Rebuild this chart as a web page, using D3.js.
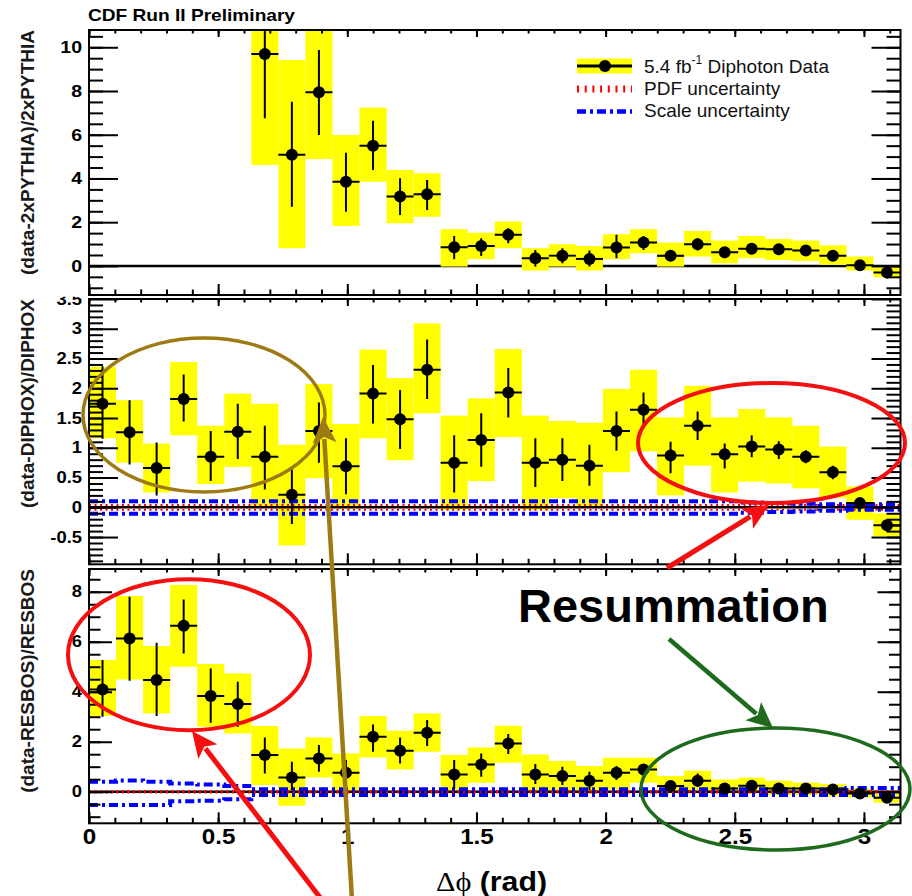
<!DOCTYPE html>
<html><head><meta charset="utf-8">
<script src="https://cdn.jsdelivr.net/npm/d3@7"></script>
<style>
body{margin:0;background:#fff}
svg{display:block}
text{font-family:"Liberation Sans",Arial,Helvetica,sans-serif}
</style>
</head><body>
<svg id="chart" width="912" height="896"></svg>
<script>
// ---------------- DATA ----------------
// 30 bins of width pi/30 in delta-phi (rad)
const nBins = 30;
const xTickValues = [0, 0.5, 1, 1.5, 2, 2.5, 3];
const xTickLabels = ["0", "0.5", "1", "1.5", "2", "2.5", "3"];

// Panel 1: (data-2xPYTHIA)/2xPYTHIA
const pyTicks = [0, 2, 4, 6, 8, 10];
const pyVal    = [null,null,null,null,null,null, 9.69, 5.08, 7.94, 3.85, 5.50, 3.17, 3.28, 0.85, 0.91, 1.42, 0.35, 0.47, 0.32, 0.84, 1.07, 0.46, 0.99, 0.63, 0.78, 0.76, 0.70, 0.47, 0.03, -0.30];
const pyStatLo = [null,null,null,null,null,null, 6.75, 2.71, 5.99, 2.48, 4.39, 2.33, 2.56, 0.31, 0.46, 1.04, -0.03, 0.12, -0.03, 0.35, 0.73, 0.23, 0.70, 0.35, 0.53, 0.50, 0.46, 0.23, -0.15, -0.56];
const pyStatHi = [null,null,null,null,null,null, 12.6, 7.51, 9.88, 5.18, 6.64, 4.01, 3.93, 1.37, 1.27, 1.72, 0.73, 0.81, 0.70, 1.42, 1.37, 0.66, 1.27, 0.85, 0.99, 0.96, 0.91, 0.70, 0.23, -0.03];
const pySysLo  = [null,null,null,null,null,null, 4.62, 0.81, 4.89, 1.83, 3.85, 1.95, 2.25, -0.03, 0.31, 0.81, -0.21, -0.03, -0.21, 0.31, 0.58, -0.03, 0.43, 0.12, 0.35, 0.27, 0.23, 0.05, -0.21, -0.52];
const pySysHi  = [null,null,null,null,null,null, 14.8, 9.42, 11.0, 5.99, 7.24, 4.39, 4.24, 1.68, 1.52, 2.03, 0.81, 0.99, 0.91, 1.45, 1.68, 1.07, 1.60, 1.16, 1.37, 1.23, 1.16, 0.94, 0.43, -0.03];

// Panel 2: (data-DIPHOX)/DIPHOX
const dxTicks = [-0.5, 0, 0.5, 1, 1.5, 2, 2.5, 3, 3.5];
const dxVal    = [1.74, 1.26, 0.66, 1.82, 0.85, 1.27, 0.85, 0.21, 1.28, 0.69, 1.91, 1.48, 2.31, 0.75, 1.13, 1.93, 0.75, 0.80, 0.70, 1.28, 1.64, 0.87, 1.37, 0.89, 1.02, 0.97, 0.85, 0.59, 0.07, -0.30];
const dxStatLo = [1.15, 0.72, 0.20, 1.44, 0.44, 0.81, 0.30, -0.28, 0.75, 0.22, 1.41, 0.98, 1.82, 0.25, 0.68, 1.51, 0.34, 0.44, 0.36, 0.95, 1.33, 0.57, 1.13, 0.65, 0.84, 0.81, 0.74, 0.47, -0.03, -0.39];
const dxStatHi = [2.37, 1.80, 1.09, 2.23, 1.28, 1.74, 1.37, 0.64, 1.76, 1.16, 2.39, 1.97, 2.82, 1.21, 1.58, 2.34, 1.16, 1.16, 1.05, 1.61, 1.93, 1.10, 1.61, 1.07, 1.21, 1.11, 0.96, 0.70, 0.14, -0.22];
const dxSysLo  = [1.16, 0.75, 0.25, 1.21, 0.39, 0.68, 0.00, -0.64, 0.49, -0.02, 1.16, 0.79, 1.58, -0.04, 0.44, 1.18, -0.04, 0.15, 0.00, 0.59, 0.94, 0.20, 0.70, 0.25, 0.43, 0.40, 0.32, 0.16, -0.21, -0.49];
const dxSysHi  = [2.36, 1.80, 1.07, 2.44, 1.37, 1.91, 1.74, 1.05, 2.07, 1.40, 2.65, 2.17, 3.09, 1.54, 1.83, 2.66, 1.54, 1.45, 1.42, 1.99, 2.31, 1.51, 2.04, 1.51, 1.65, 1.51, 1.37, 1.02, 0.35, -0.10];
const dxScaleUp = [0.10,0.10,0.10,0.10,0.10,0.10,0.10,0.10,0.10,0.10,0.10,0.10,0.10,0.10,0.10,0.10,0.10,0.10,0.10,0.10,0.10,0.10,0.10,0.10,0.08,0.07,0.06,0.05,0.05,0.05];
const dxScaleDn = [-0.11,-0.11,-0.11,-0.11,-0.11,-0.11,-0.11,-0.11,-0.11,-0.11,-0.11,-0.11,-0.11,-0.11,-0.11,-0.11,-0.11,-0.11,-0.11,-0.11,-0.11,-0.11,-0.11,-0.11,-0.09,-0.08,-0.07,-0.06,-0.04,-0.04];
const dxPdfUp = [0.04,0.04,0.04,0.04,0.04,0.04,0.04,0.04,0.04,0.04,0.04,0.04,0.04,0.04,0.04,0.04,0.04,0.04,0.04,0.04,0.04,0.04,0.04,0.04,0.04,0.04,0.04,0.04,0.04,0.04];
const dxPdfDn = [-0.04,-0.04,-0.04,-0.04,-0.04,-0.04,-0.04,-0.04,-0.04,-0.04,-0.04,-0.04,-0.04,-0.04,-0.04,-0.04,-0.04,-0.04,-0.04,-0.04,-0.04,-0.04,-0.04,-0.04,-0.04,-0.04,-0.04,-0.04,-0.04,-0.04];

// Panel 3: (data-RESBOS)/RESBOS
const rbTicks = [0, 2, 4, 6, 8];
const rbVal    = [4.09, 6.13, 4.47, 6.64, 3.83, 3.51, 1.47, 0.57, 1.33, 0.76, 2.20, 1.64, 2.36, 0.69, 1.09, 1.93, 0.69, 0.63, 0.44, 0.76, 0.89, 0.23, 0.44, 0.13, 0.24, 0.13, 0.13, 0.09, -0.07, -0.24];
const rbStatLo = [3.00, 4.44, 3.03, 5.53, 2.76, 2.60, 0.73, 0.07, 0.80, 0.20, 1.60, 1.13, 1.83, 0.13, 0.60, 1.51, 0.31, 0.27, 0.07, 0.47, 0.63, 0.00, 0.20, -0.07, 0.07, 0.00, -0.04, -0.07, -0.23, -0.36];
const rbStatHi = [5.27, 7.80, 5.96, 7.69, 4.93, 4.40, 2.17, 1.20, 1.87, 1.27, 2.69, 2.17, 2.87, 1.27, 1.53, 2.31, 1.11, 1.00, 0.80, 1.03, 1.11, 0.40, 0.73, 0.33, 0.43, 0.31, 0.31, 0.23, 0.07, -0.07];
const rbSysLo  = [3.03, 4.49, 3.13, 5.00, 2.60, 2.33, 0.27, -0.56, 0.57, -0.07, 1.37, 0.89, 1.60, -0.07, 0.36, 1.16, 0.00, -0.07, -0.07, 0.09, 0.36, -0.07, 0.00, -0.07, -0.07, -0.13, -0.13, -0.20, -0.23, -0.44];
const rbSysHi  = [5.27, 7.83, 5.83, 8.27, 5.11, 4.73, 2.63, 1.73, 2.17, 1.53, 3.03, 2.44, 3.13, 1.47, 1.77, 2.64, 1.49, 1.23, 1.03, 1.36, 1.36, 0.63, 0.84, 0.49, 0.56, 0.44, 0.36, 0.31, 0.13, -0.04];
const rbScaleUp = [0.40,0.45,0.40,0.33,0.29,0.23,0.10,0.10,0.10,0.10,0.10,0.10,0.10,0.10,0.10,0.10,0.10,0.10,0.10,0.10,0.10,0.10,0.10,0.10,0.10,0.10,0.10,0.10,0.15,0.15];
const rbScaleDn = [-0.53,-0.53,-0.53,-0.38,-0.36,-0.30,-0.13,-0.13,-0.13,-0.13,-0.13,-0.13,-0.13,-0.13,-0.13,-0.13,-0.13,-0.13,-0.13,-0.13,-0.13,-0.13,-0.13,-0.13,-0.13,-0.13,-0.13,-0.13,-0.13,-0.13];
const rbPdfUp = [0.03,0.03,0.03,0.03,0.03,0.03,0.03,0.03,0.03,0.03,0.03,0.03,0.03,0.03,0.03,0.03,0.03,0.03,0.03,0.03,0.03,0.03,0.03,0.03,0.03,0.03,0.03,0.03,0.03,0.03];
const rbPdfDn = [-0.03,-0.03,-0.03,-0.03,-0.03,-0.03,-0.03,-0.03,-0.03,-0.03,-0.03,-0.03,-0.03,-0.03,-0.03,-0.03,-0.03,-0.03,-0.03,-0.03,-0.03,-0.03,-0.03,-0.03,-0.03,-0.03,-0.03,-0.03,-0.03,-0.03];

const legendLabels = ["Diphoton Data", "PDF uncertainty", "Scale uncertainty"];

// ---------------- LAYOUT ----------------
const svg = d3.select("#chart");
const W = 912, H = 896;
const frameL = 89, frameR = 900.5;
const YELLOW = "#ffff00", BLUE = "#0000ff", RED = "#ff0000";
const FONT = '"Liberation Sans",Arial,Helvetica,sans-serif';

svg.append("rect").attr("width", W).attr("height", H).attr("fill", "#fff");

const x = d3.scaleLinear().domain([0, Math.PI]).range([frameL, frameR]);
const binEdges = d3.range(nBins + 1).map(i => i * Math.PI / nBins);

const panels = [
  { id: "py", top: 30, bottom: 295, domain: [-1.33, 10.79], ticks: pyTicks, minor: d3.range(-1, 10.51, 0.5),
    majLen: 29, minLen: 14, labelClipTop: 0, title: "(data-2xPYTHIA)/2xPYTHIA", lfs: 17,
    val: pyVal, sLo: pyStatLo, sHi: pyStatHi, yLo: pySysLo, yHi: pySysHi, theory: null, zeroUnder: true },
  { id: "dx", top: 299, bottom: 564.3, domain: [-0.958, 3.5], ticks: dxTicks, minor: d3.range(-0.9, 3.45, 0.1),
    majLen: 29, minLen: 14, labelClipTop: 296.8, title: "(data-DIPHOX)/DIPHOX", lfs: 16,
    val: dxVal, sLo: dxStatLo, sHi: dxStatHi, yLo: dxSysLo, yHi: dxSysHi,
    theory: { pu: dxPdfUp, pd: dxPdfDn, su: dxScaleUp, sd: dxScaleDn }, zeroUnder: false },
  { id: "rb", top: 569, bottom: 823.3, domain: [-1.264, 8.91], ticks: rbTicks, minor: d3.range(-1, 8.51, 0.5),
    majLen: 23, minLen: 11.5, labelClipTop: 566.5, title: "(data-RESBOS)/RESBOS", lfs: 16,
    val: rbVal, sLo: rbStatLo, sHi: rbStatHi, yLo: rbSysLo, yHi: rbSysHi,
    theory: { pu: rbPdfUp, pd: rbPdfDn, su: rbScaleUp, sd: rbScaleDn }, zeroUnder: false }
];

const defs = svg.append("defs");
const fmt = v => String(v);

function styleAxis(g, w) {
  g.attr("font-family", FONT).attr("font-weight", "bold");
  g.select(".domain").remove();
  g.selectAll(".tick line").attr("stroke", "#000").attr("stroke-width", w);
}

panels.forEach((p, pi) => {
  const y = d3.scaleLinear().domain(p.domain).range([p.bottom, p.top]);
  p.y = y;
  const clipId = "clip-" + p.id;
  defs.append("clipPath").attr("id", clipId).append("rect")
    .attr("x", frameL).attr("y", p.top).attr("width", frameR - frameL).attr("height", p.bottom - p.top);
  const lclip = "lclip-" + p.id;
  defs.append("clipPath").attr("id", lclip).append("rect")
    .attr("x", -200).attr("y", p.labelClipTop).attr("width", W + 400).attr("height", H);

  const g = svg.append("g").attr("clip-path", `url(#${clipId})`);
  const idx = d3.range(nBins).filter(i => p.val[i] !== null);

  const drawZero = () => g.append("line")
    .attr("x1", x(0)).attr("x2", x(Math.PI)).attr("y1", y(0)).attr("y2", y(0))
    .attr("stroke", "#000").attr("stroke-width", 2.5);

  if (p.zeroUnder) drawZero();

  // systematic (yellow) boxes
  g.selectAll("rect.sys").data(idx).join("rect")
    .attr("x", i => x(binEdges[i])).attr("width", i => x(binEdges[i + 1]) - x(binEdges[i]))
    .attr("y", i => y(p.yHi[i])).attr("height", i => y(p.yLo[i]) - y(p.yHi[i]))
    .attr("fill", YELLOW);

  if (!p.zeroUnder) drawZero();

  // theory uncertainty histograms
  if (p.theory) {
    const step = arr => {
      const pts = arr.map((v, i) => [binEdges[i], v]);
      pts.push([binEdges[nBins], arr[nBins - 1]]);
      return d3.line().x(d => x(d[0])).y(d => y(d[1])).curve(d3.curveStepAfter)(pts);
    };
    [p.theory.pu, p.theory.pd].forEach(arr => g.append("path").attr("d", step(arr))
      .attr("fill", "none").attr("stroke", RED).attr("stroke-width", 2).attr("stroke-dasharray", "2,3.5"));
    [p.theory.su, p.theory.sd].forEach(arr => g.append("path").attr("d", step(arr))
      .attr("fill", "none").attr("stroke", BLUE).attr("stroke-width", 4).attr("stroke-dasharray", "9,4,3,4"));
  }

  // error bars
  g.selectAll("line.ex").data(idx).join("line")
    .attr("x1", i => x(binEdges[i])).attr("x2", i => x(binEdges[i + 1]))
    .attr("y1", i => y(p.val[i])).attr("y2", i => y(p.val[i]))
    .attr("stroke", "#000").attr("stroke-width", 2);
  g.selectAll("line.ey").data(idx).join("line")
    .attr("x1", i => x((binEdges[i] + binEdges[i + 1]) / 2)).attr("x2", i => x((binEdges[i] + binEdges[i + 1]) / 2))
    .attr("y1", i => y(p.sLo[i])).attr("y2", i => y(p.sHi[i]))
    .attr("stroke", "#000").attr("stroke-width", 2);
  g.selectAll("circle.pt").data(idx).join("circle")
    .attr("cx", i => x((binEdges[i] + binEdges[i + 1]) / 2)).attr("cy", i => y(p.val[i]))
    .attr("r", 6).attr("fill", "#000");

  // frame
  svg.append("rect").attr("x", frameL).attr("y", p.top).attr("width", frameR - frameL).attr("height", p.bottom - p.top)
    .attr("fill", "none").attr("stroke", "#000").attr("stroke-width", 2);

  // y axes (inward ticks)
  const la = svg.append("g").attr("transform", `translate(${frameL},0)`).attr("clip-path", `url(#${lclip})`)
    .call(d3.axisLeft(y).tickValues(p.ticks).tickSizeInner(-p.majLen).tickSizeOuter(0).tickPadding(7).tickFormat(fmt));
  styleAxis(la, 2);
  la.attr("font-size", p.lfs);
  la.selectAll(".tick text").attr("fill", "#000").each(function () {
    const tx = +this.getAttribute("x");
    d3.select(this).attr("x", 0).attr("transform", `translate(${tx},0) scale(1.15,1)`);
  });
  const lm = svg.append("g").attr("transform", `translate(${frameL},0)`)
    .call(d3.axisLeft(y).tickValues(p.minor).tickSizeInner(-p.minLen).tickSizeOuter(0).tickFormat(""));
  styleAxis(lm, 2);
  const ra = svg.append("g").attr("transform", `translate(${frameR},0)`)
    .call(d3.axisRight(y).tickValues(p.ticks).tickSizeInner(-p.majLen).tickSizeOuter(0).tickFormat(""));
  styleAxis(ra, 2);
  const rm = svg.append("g").attr("transform", `translate(${frameR},0)`)
    .call(d3.axisRight(y).tickValues(p.minor).tickSizeInner(-p.minLen).tickSizeOuter(0).tickFormat(""));
  styleAxis(rm, 2);

  // x axes (inward ticks)
  const xMinor = d3.range(0, 3.15, 0.1);
  const isLast = pi === panels.length - 1;
  const ba = svg.append("g").attr("transform", `translate(0,${p.bottom})`)
    .call(d3.axisBottom(x).tickValues(xTickValues).tickSizeInner(-11).tickSizeOuter(0).tickPadding(5)
      .tickFormat((d, i) => isLast ? xTickLabels[i] : ""));
  styleAxis(ba, 2);
  ba.attr("font-size", 22);
  ba.selectAll(".tick text").attr("fill", "#000").attr("transform", "scale(1.1,1)");
  const bm = svg.append("g").attr("transform", `translate(0,${p.bottom})`)
    .call(d3.axisBottom(x).tickValues(xMinor).tickSizeInner(-5.5).tickSizeOuter(0).tickFormat(""));
  styleAxis(bm, 2);
  const ta = svg.append("g").attr("transform", `translate(0,${p.top})`)
    .call(d3.axisTop(x).tickValues(xTickValues).tickSizeInner(-7).tickSizeOuter(0).tickFormat(""));
  styleAxis(ta, 2);
  const tm = svg.append("g").attr("transform", `translate(0,${p.top})`)
    .call(d3.axisTop(x).tickValues(xMinor).tickSizeInner(-3.5).tickSizeOuter(0).tickFormat(""));
  styleAxis(tm, 2);

  // y title
  svg.append("text").attr("transform", `translate(34,${p.top}) rotate(-90)`)
    .attr("text-anchor", "end").attr("font-size", 19).attr("font-weight", "bold").attr("fill", "#1a1a1a")
    .text(p.title);
});

// ---------------- TITLES ----------------
svg.append("text").attr("x", 88).attr("y", 21).attr("font-size", 17).attr("font-weight", "bold")
  .attr("textLength", 207).attr("lengthAdjust", "spacingAndGlyphs").text("CDF Run II Preliminary");

const xt = svg.append("text").attr("x", 436).attr("y", 891).attr("font-size", 27)
  .attr("textLength", 111).attr("lengthAdjust", "spacingAndGlyphs");
xt.append("tspan").attr("font-family", '"Liberation Serif","DejaVu Serif",serif').text("Δϕ");
xt.append("tspan").attr("font-weight", "bold").text(" (rad)");

// ---------------- LEGEND ----------------
const lg = svg.append("g");
const lx0 = 577, lx1 = 632, ltx = 644;
lg.append("rect").attr("x", lx0).attr("y", 58.5).attr("width", lx1 - lx0).attr("height", 15).attr("fill", YELLOW);
lg.append("line").attr("x1", lx0).attr("x2", lx1).attr("y1", 66).attr("y2", 66).attr("stroke", "#000").attr("stroke-width", 3);
lg.append("circle").attr("cx", 605).attr("cy", 66).attr("r", 6).attr("fill", "#000");
lg.append("line").attr("x1", lx0).attr("x2", lx1).attr("y1", 89).attr("y2", 89).attr("stroke", RED)
  .attr("stroke-width", 7).attr("stroke-dasharray", "2,5.7");
lg.append("line").attr("x1", lx0).attr("x2", lx1).attr("y1", 111.5).attr("y2", 111.5).attr("stroke", BLUE)
  .attr("stroke-width", 4.5).attr("stroke-dasharray", "9,4,3,4");
const t1 = lg.append("text").attr("x", ltx).attr("y", 73).attr("font-size", 19).attr("fill", "#111");
t1.append("tspan").text("5.4 fb");
t1.append("tspan").attr("font-size", 12).attr("dy", -9).text("-1");
t1.append("tspan").attr("dy", 9).text(" " + legendLabels[0]);
lg.append("text").attr("x", ltx).attr("y", 95).attr("font-size", 19).attr("fill", "#111").text(legendLabels[1]);
lg.append("text").attr("x", ltx).attr("y", 117).attr("font-size", 19).attr("fill", "#111").text(legendLabels[2]);

// ---------------- ANNOTATIONS ----------------
const OLIVE = "#9e7a14", ARED = "#f41010", GREEN = "#1e6b1e";
const ann = svg.append("g");
const ellipses = [
  { cx: 204, cy: 415, rx: 121, ry: 77, c: OLIVE, w: 3.5 },
  { cx: 771.5, cy: 443, rx: 133.5, ry: 60, c: ARED, w: 4 },
  { cx: 189, cy: 654.7, rx: 121, ry: 75.5, c: ARED, w: 4 },
  { cx: 775.5, cy: 789, rx: 134.5, ry: 61, c: GREEN, w: 3.5 }
];
ellipses.forEach(e => ann.append("ellipse").attr("cx", e.cx).attr("cy", e.cy).attr("rx", e.rx).attr("ry", e.ry)
  .attr("fill", "none").attr("stroke", e.c).attr("stroke-width", e.w));

const arrows = [
  { from: [352, 900], to: [323, 417], c: OLIVE, w: 4.5 },
  { from: [322, 900], to: [192, 731], c: ARED, w: 5 },
  { from: [667, 568], to: [769, 505], c: ARED, w: 5 },
  { from: [669, 639], to: [773, 728], c: GREEN, w: 4.5 }
];
arrows.forEach(a => {
  const [x1, y1] = a.from, [x2, y2] = a.to;
  const dx = x2 - x1, dy = y2 - y1, L = Math.hypot(dx, dy);
  const ux = dx / L, uy = dy / L, nx = -uy, ny = ux;
  const hl = 26, hw = 24;
  const bx = x2 - ux * hl, by = y2 - uy * hl;
  ann.append("line").attr("x1", x1).attr("y1", y1).attr("x2", bx + ux * 4).attr("y2", by + uy * 4)
    .attr("stroke", a.c).attr("stroke-width", a.w);
  ann.append("path").attr("d", `M${x2},${y2}L${bx + nx * hw / 2},${by + ny * hw / 2}L${bx + ux * 6},${by + uy * 6}L${bx - nx * hw / 2},${by - ny * hw / 2}Z`)
    .attr("fill", a.c);
});

ann.append("text").attr("x", 518).attr("y", 622).attr("font-size", 47).attr("font-weight", "bold")
  .attr("fill", "#000").text("Resummation");
</script>
</body></html>
